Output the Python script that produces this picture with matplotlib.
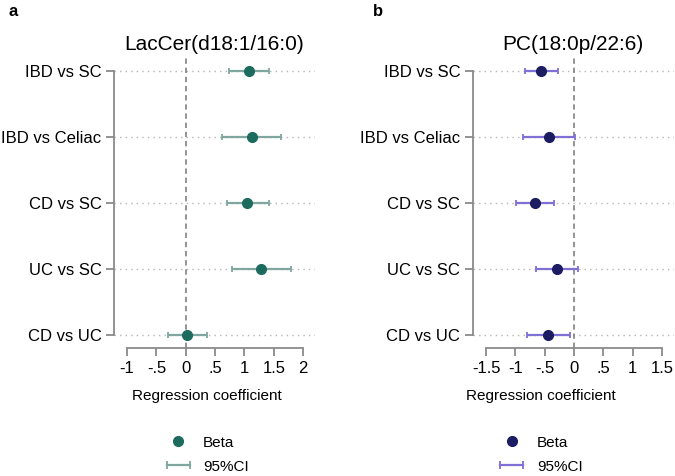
import matplotlib
matplotlib.use("Agg")
import matplotlib.pyplot as plt
from matplotlib.lines import Line2D
from matplotlib.legend_handler import HandlerLine2D

plt.rcParams['font.family'] = ['Liberation Sans', 'DejaVu Sans']

comparisons = ["IBD vs SC", "IBD vs Celiac", "CD vs SC", "UC vs SC", "CD vs UC"]

# panel a: LacCer(d18:1/16:0)
beta_a = [1.07, 1.13, 1.05, 1.29, 0.025]
lo_a = [0.74, 0.62, 0.70, 0.78, -0.31]
hi_a = [1.42, 1.63, 1.42, 1.80, 0.36]
xticks_a = [-1, -0.5, 0, 0.5, 1, 1.5, 2]
xticklabels_a = ["-1", "-.5", "0", ".5", "1", "1.5", "2"]

# panel b: PC(18:0p/22:6)
beta_b = [-0.56, -0.42, -0.66, -0.29, -0.44]
lo_b = [-0.84, -0.87, -0.99, -0.65, -0.81]
hi_b = [-0.27, 0.02, -0.35, 0.07, -0.07]
xticks_b = [-1.5, -1, -0.5, 0, 0.5, 1, 1.5]
xticklabels_b = ["-1.5", "-1", "-.5", "0", ".5", "1", "1.5"]

spine_col = "#8a8a8a"


def forest(ax, title, beta, lo, hi, xticks, xticklabels, xlim, pt_col, ci_col,
           label_x, leg_x):
    ypos = list(range(len(comparisons), 0, -1))
    xerr = [[b - l for b, l in zip(beta, lo)], [h - b for b, h in zip(beta, hi)]]
    ax.axvline(0, color="#777777", linestyle=(0, (3.5, 2.5)), lw=1.1, zorder=1)
    ax.errorbar(beta, ypos, xerr=xerr, fmt="none", ecolor=ci_col, elinewidth=1.6,
                capsize=2.5, capthick=1.3, zorder=2)
    ax.plot(beta, ypos, "o", color=pt_col, ms=7, zorder=3)

    ax.set_xlim(*xlim)
    ax.set_ylim(0.8, 5.2)
    ax.set_yticks(ypos)
    ax.set_yticklabels(comparisons, fontsize=12)
    ax.set_xticks(xticks)
    ax.set_xticklabels(xticklabels, fontsize=12)
    ax.grid(axis="y", linestyle=(0, (1, 3)), color="#b5b5b5", lw=1)
    ax.set_axisbelow(True)
    for s in ["top", "right"]:
        ax.spines[s].set_visible(False)
    for s in ["left", "bottom"]:
        ax.spines[s].set_color(spine_col)
        ax.spines[s].set_linewidth(1.3)
    ax.spines["left"].set_bounds(1, 5)
    ax.spines["bottom"].set_bounds(xticks[0], xticks[-1])
    ax.tick_params(axis="both", color=spine_col, width=1.3, length=6, pad=3)
    ax.set_title(title, fontsize=15, pad=6)
    ax.set_xlabel("Regression coefficient", fontsize=11)
    ax.xaxis.set_label_coords(label_x, -0.14)

    h_beta = Line2D([], [], color=pt_col, marker="o", ls="none", ms=7)
    h_ci = Line2D([], [], color=ci_col, lw=1.6, marker="|", ms=6, mew=1.3)
    ax.legend([h_beta, h_ci], ["Beta", "95%CI"], loc="center left",
              bbox_to_anchor=(leg_x, 0.045), bbox_transform=ax.figure.transFigure,
              frameon=False, fontsize=11, borderpad=0, borderaxespad=0,
              handlelength=2.1, handletextpad=0.6, labelspacing=0.65,
              handler_map={h_ci: HandlerLine2D(numpoints=2),
                           h_beta: HandlerLine2D(numpoints=1)})


fig = plt.figure(figsize=(6.75, 4.76), dpi=100)
ax_a = fig.add_axes([0.1689, 0.2689, 0.2978, 0.609])
ax_b = fig.add_axes([0.7003, 0.2689, 0.2978, 0.609])

forest(ax_a, "LacCer(d18:1/16:0)", beta_a, lo_a, hi_a, xticks_a, xticklabels_a,
       (-1.222, 2.202), "#1d6b5f", "#7fa79f", 0.463, 0.2400)
forest(ax_b, "PC(18:0p/22:6)", beta_b, lo_b, hi_b, xticks_b, xticklabels_b,
       (-1.728, 1.70), "#1c1c62", "#7e70d4", 0.337, 0.7345)

fig.text(0.012, 0.975, "a", fontsize=12, fontweight="bold", va="center")
fig.text(0.552, 0.975, "b", fontsize=12, fontweight="bold", va="center")

fig.savefig("out.png", dpi=100)
